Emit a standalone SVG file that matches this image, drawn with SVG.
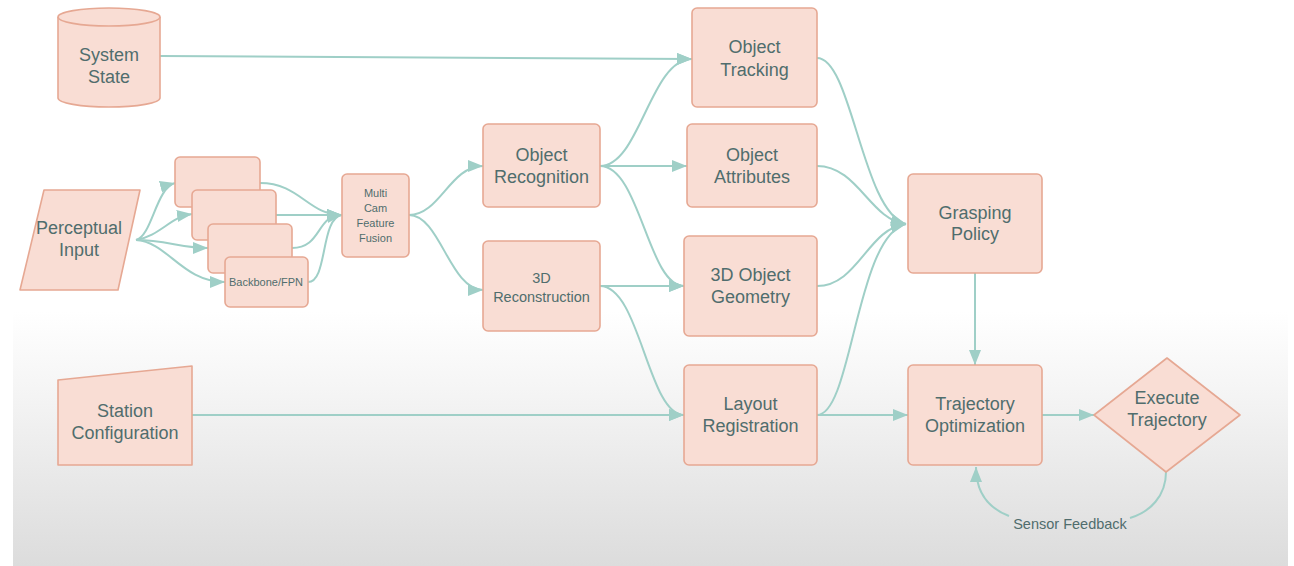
<svg xmlns="http://www.w3.org/2000/svg" width="1294" height="566" viewBox="0 0 1294 566">
  <defs>
    <linearGradient id="bg" x1="0" y1="0" x2="0" y2="1">
      <stop offset="0" stop-color="#ffffff"/>
      <stop offset="0.55" stop-color="#ffffff"/>
      <stop offset="0.7" stop-color="#f4f4f4"/>
      <stop offset="1" stop-color="#dcdcdc"/>
    </linearGradient>
    <marker id="arrow" markerUnits="userSpaceOnUse" markerWidth="16" markerHeight="14" refX="15" refY="7" orient="auto">
      <path d="M0,1 L15,7 L0,13 Z" fill="#9fcfc7"/>
    </marker>
    <style>
      .node { fill: #f9ddd4; stroke: #e6a893; stroke-width: 1.6; stroke-linejoin: round; }
      .lbl { font-family: "Liberation Sans", Arial, sans-serif; font-size: 18px; fill: #506d6d; text-anchor: middle; }
      .sm { font-size: 11px; }
      .md { font-size: 14.5px; }
      .edge { fill: none; stroke: #9fcfc7; stroke-width: 2; }
      .edge.a { marker-end: url(#arrow); }
    </style>
  </defs>

  <rect x="0" y="0" width="1294" height="566" fill="#ffffff"/>
  <rect x="13" y="0" width="1275" height="566" fill="url(#bg)"/>

  <!-- connectors -->
  <g id="connectors">
    <path class="edge a" d="M160,56 L692,59"/>
    <path class="edge a" d="M136,240 C152,236 156,188 175,183"/>
    <path class="edge a" d="M136,240 C160,236 170,217 192,214"/>
    <path class="edge a" d="M136,240 C165,240 182,248 208,248"/>
    <path class="edge a" d="M136,240 C168,242 182,282 225,282"/>
    <path class="edge a" d="M260,183 C300,183 308,215 342,215"/>
    <path class="edge a" d="M276,215 L342,215"/>
    <path class="edge a" d="M292,248 C322,248 316,215 342,215"/>
    <path class="edge a" d="M308,282 C328,282 320,218 342,215"/>
    <path class="edge a" d="M409,215 C440,215 450,166 483,166"/>
    <path class="edge a" d="M409,215 C440,215 450,290 483,290"/>
    <path class="edge a" d="M600,166 C640,166 650,59 692,59"/>
    <path class="edge a" d="M600,166 L687,166"/>
    <path class="edge a" d="M600,166 C640,166 648,286 684,286"/>
    <path class="edge a" d="M600,286 L684,286"/>
    <path class="edge a" d="M600,286 C640,286 648,415 684,415"/>
    <path class="edge a" d="M192,415 L684,415"/>
    <path class="edge a" d="M817,58 C852,58 862,212 906,224"/>
    <path class="edge a" d="M817,166 C858,166 870,220 906,224"/>
    <path class="edge a" d="M817,286 C858,286 868,228 906,224"/>
    <path class="edge a" d="M817,415 C852,415 856,236 906,224"/>
    <path class="edge a" d="M817,415 L908,415"/>
    <path class="edge a" d="M975,273 L975,365"/>
    <path class="edge a" d="M1042,415 L1094,415"/>
    <path class="edge" d="M1166,472 C1166,496 1150,512 1130,518"/>
    <path class="edge a" d="M1009,516 C988,508 976,492 976,467"/>
    <text class="lbl" x="1070" y="529" style="font-size:14.5px">Sensor Feedback</text>
  </g>

  <g id="system-state">
    <path class="node" d="M58,17 A51,9 0 0 1 160,17 V98 A51,9 0 0 1 58,98 Z"/>
    <path class="node" fill="none" d="M58,17 A51,9 0 0 0 160,17"/>
    <text class="lbl" x="109" y="61">System</text>
    <text class="lbl" x="109" y="83">State</text>
  </g>

  <g id="perceptual-input">
    <path class="node" d="M44,190 L140,190 L118,290 L20,290 Z"/>
    <text class="lbl" x="79" y="234">Perceptual</text>
    <text class="lbl" x="79" y="256">Input</text>
  </g>

  <g id="backbone-1"><rect class="node" x="175" y="157" width="85" height="50" rx="5"/></g>
  <g id="backbone-2"><rect class="node" x="192" y="190" width="84" height="50" rx="5"/></g>
  <g id="backbone-3"><rect class="node" x="208" y="224" width="84" height="49" rx="5"/></g>
  <g id="backbone-fpn">
    <rect class="node" x="225" y="257" width="83" height="50" rx="5"/>
    <text class="lbl sm" x="266" y="286">Backbone/FPN</text>
  </g>

  <g id="feature-fusion">
    <rect class="node" x="342" y="174" width="67" height="83" rx="5"/>
    <text class="lbl sm" x="375.5" y="197">Multi</text>
    <text class="lbl sm" x="375.5" y="212">Cam</text>
    <text class="lbl sm" x="375.5" y="227">Feature</text>
    <text class="lbl sm" x="375.5" y="242">Fusion</text>
  </g>

  <g id="object-recognition">
    <rect class="node" x="483" y="124" width="117" height="83" rx="5"/>
    <text class="lbl" x="541.5" y="161">Object</text>
    <text class="lbl" x="541.5" y="183">Recognition</text>
  </g>

  <g id="reconstruction">
    <rect class="node" x="483" y="241" width="117" height="90" rx="5"/>
    <text class="lbl md" x="541.5" y="283">3D</text>
    <text class="lbl md" x="541.5" y="302">Reconstruction</text>
  </g>

  <g id="object-tracking">
    <rect class="node" x="692" y="8" width="125" height="99" rx="5"/>
    <text class="lbl" x="754.5" y="53">Object</text>
    <text class="lbl" x="754.5" y="76">Tracking</text>
  </g>

  <g id="object-attributes">
    <rect class="node" x="687" y="124" width="130" height="83" rx="5"/>
    <text class="lbl" x="752" y="161">Object</text>
    <text class="lbl" x="752" y="183">Attributes</text>
  </g>

  <g id="object-geometry">
    <rect class="node" x="684" y="236" width="133" height="100" rx="5"/>
    <text class="lbl" x="750.5" y="281">3D Object</text>
    <text class="lbl" x="750.5" y="303">Geometry</text>
  </g>

  <g id="layout-registration">
    <rect class="node" x="684" y="365" width="133" height="100" rx="5"/>
    <text class="lbl" x="750.5" y="410">Layout</text>
    <text class="lbl" x="750.5" y="432">Registration</text>
  </g>

  <g id="station-configuration">
    <path class="node" d="M58,380 L192,366 L192,465 L58,465 Z"/>
    <text class="lbl" x="125" y="417">Station</text>
    <text class="lbl" x="125" y="439">Configuration</text>
  </g>

  <g id="grasping-policy">
    <rect class="node" x="908" y="174" width="134" height="99" rx="5"/>
    <text class="lbl" x="975" y="219">Grasping</text>
    <text class="lbl" x="975" y="240">Policy</text>
  </g>

  <g id="trajectory-optimization">
    <rect class="node" x="908" y="365" width="134" height="100" rx="5"/>
    <text class="lbl" x="975" y="410">Trajectory</text>
    <text class="lbl" x="975" y="432">Optimization</text>
  </g>

  <g id="execute-trajectory">
    <path class="node" d="M1167,358 L1240,415 L1166,472 L1094,415 Z"/>
    <text class="lbl" x="1167" y="404">Execute</text>
    <text class="lbl" x="1167" y="426">Trajectory</text>
  </g>
</svg>
